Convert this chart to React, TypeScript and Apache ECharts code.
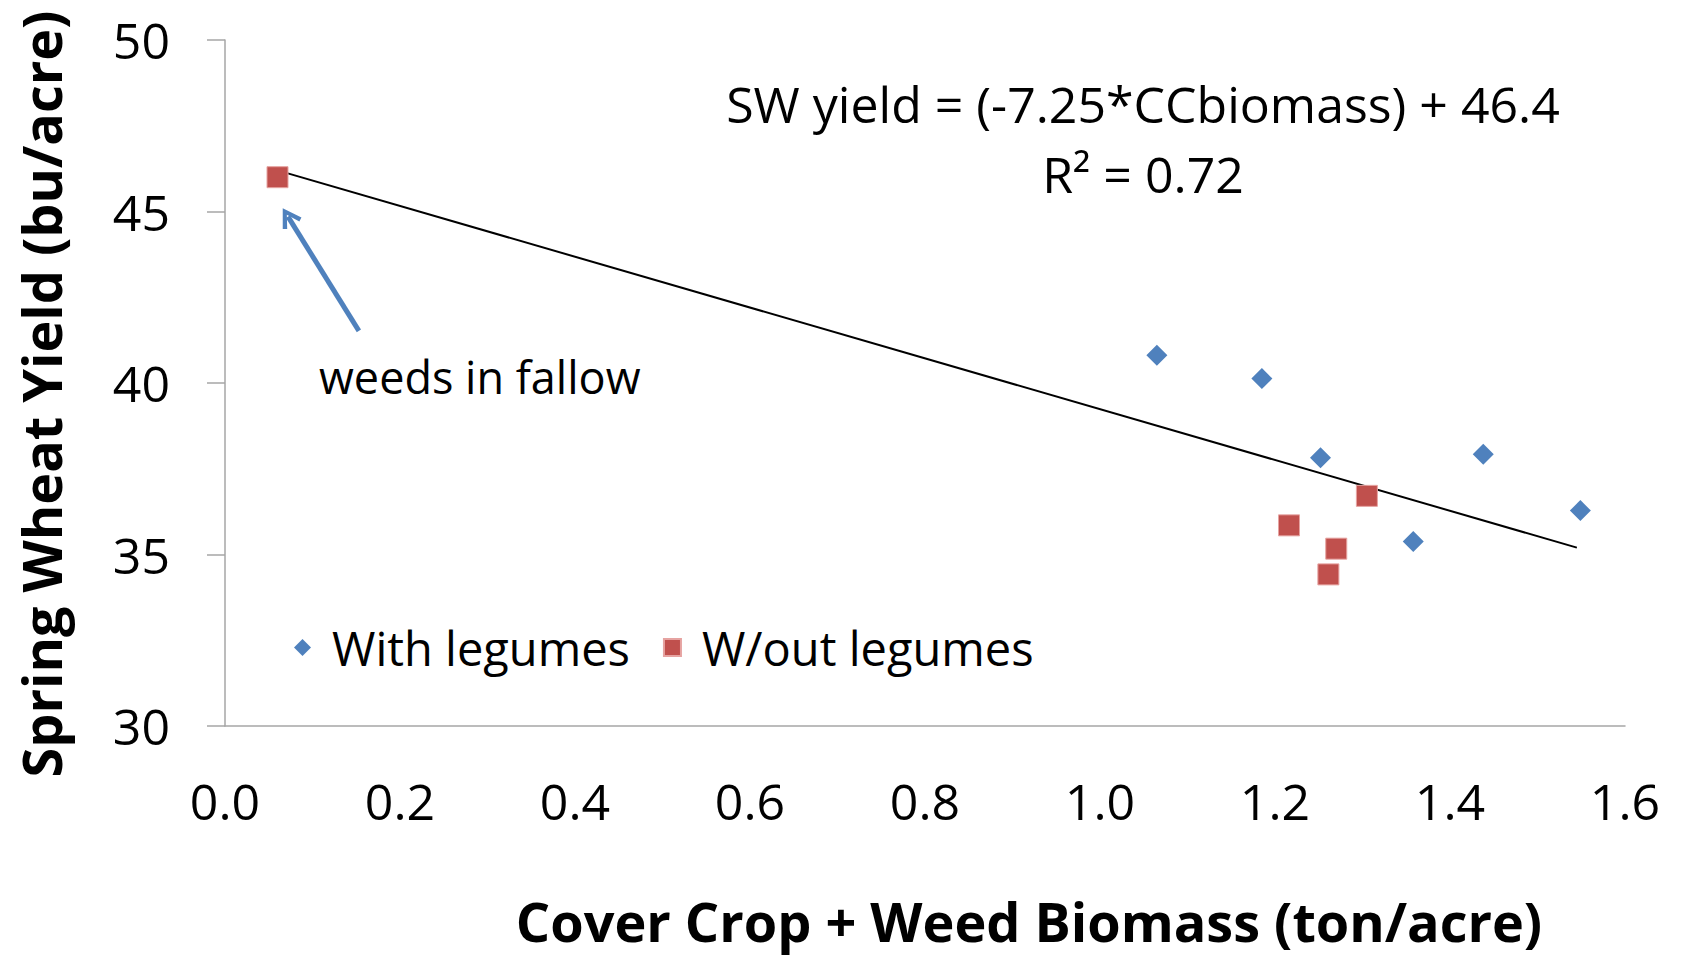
import React, { useEffect, useRef } from "react";
import * as echarts from "echarts";

// Data
const seriesNames = ["With legumes", "W/out legumes"];
const withLegumesX = [1.065, 1.185, 1.252, 1.438, 1.549, 1.358];
const withLegumesY = [40.81, 40.13, 37.82, 37.92, 36.28, 35.38];
const withoutLegumesX = [0.06, 1.305, 1.216, 1.27, 1.261];
const withoutLegumesY = [46.0, 36.71, 35.85, 35.17, 34.42];
const trendX = [0.06, 1.545];
const trendY = [46.2, 35.2];
const arrowFrom = [0.153, 41.52];
const arrowTo = [0.072, 44.85];
const equationText = "SW yield = (-7.25*CCbiomass) + 46.4";
const r2Text = "R² = 0.72";
const noteText = "weeds in fallow";
const xTitle = "Cover Crop + Weed Biomass (ton/acre)";
const yTitle = "Spring Wheat Yield (bu/acre)";
const xMin = 0, xMax = 1.6, xStep = 0.2;
const yMin = 30, yMax = 50, yStep = 5;

const FONT = "'Open Sans', sans-serif";
const BLUE = "#4F81BD";
const RED = "#C0504D";
const AXIS = "#A6A6A6";
const CHEVRON = "path://M10,0 L20,16 L16.5,18 L10,7 L3.5,18 L0,16 Z";

export default function App() {
  const ref = useRef<HTMLDivElement>(null);
  useEffect(() => {
    document.body.style.margin = "0";
    const chart = echarts.init(ref.current!, null, { renderer: "svg" });
    const zip = (xs: number[], ys: number[]) => xs.map((x, i) => [x, ys[i]]);
    chart.setOption({
      animation: false,
      backgroundColor: "#ffffff",
      textStyle: { fontFamily: FONT, color: "#000" },
      grid: { left: 225, right: 56, top: 40, bottom: 232, containLabel: false, outerBoundsMode: "none" },
      legend: {
        left: 294,
        top: 624,
        padding: 0,
        itemGap: 33,
        itemWidth: 17,
        itemHeight: 17,
        data: [
          { name: seriesNames[0], icon: "diamond" },
          { name: seriesNames[1], icon: "rect" },
        ],
        textStyle: { fontFamily: FONT, fontSize: 47, color: "#000", padding: [0, 0, 0, 16] },
      },
      xAxis: {
        type: "value",
        min: xMin,
        max: xMax,
        interval: xStep,
        axisLine: { show: true, lineStyle: { color: AXIS, width: 1.5 } },
        axisTick: { show: false },
        splitLine: { show: false },
        axisLabel: {
          fontFamily: FONT,
          fontSize: 50,
          color: "#000",
          margin: 50,
          formatter: (v: number) => v.toFixed(1),
        },
      },
      yAxis: {
        type: "value",
        min: yMin,
        max: yMax,
        interval: yStep,
        axisLine: { show: true, lineStyle: { color: AXIS, width: 1.5 } },
        axisTick: { show: true, inside: false, length: 18, lineStyle: { color: AXIS, width: 1.5 } },
        splitLine: { show: false },
        axisLabel: { fontFamily: FONT, fontSize: 50, color: "#000", margin: 55 },
      },
      series: [
        {
          name: "trend",
          type: "line",
          data: zip(trendX, trendY),
          showSymbol: false,
          symbol: "none",
          lineStyle: { color: "#000", width: 2 },
          silent: true,
          z: 1,
          markLine: {
            silent: true,
            symbol: ["none", CHEVRON],
            symbolSize: [22, 20],
            label: { show: false },
            lineStyle: { color: BLUE, width: 5, type: "solid" },
            data: [[{ coord: arrowFrom }, { coord: arrowTo }]],
          },
        },
        {
          name: seriesNames[0],
          type: "scatter",
          symbol: "diamond",
          symbolSize: 21,
          itemStyle: { color: BLUE, opacity: 1 },
          data: zip(withLegumesX, withLegumesY),
          z: 3,
        },
        {
          name: seriesNames[1],
          type: "scatter",
          symbol: "rect",
          symbolSize: 21,
          itemStyle: { color: RED, opacity: 1, borderColor: "#E6A3A1", borderWidth: 1 },
          data: zip(withoutLegumesX, withoutLegumesY),
          z: 3,
        },
      ],
      graphic: [
        {
          type: "text",
          x: 1143,
          y: 104,
          style: { text: equationText, font: `50px ${FONT}`, fill: "#000", align: "center", verticalAlign: "middle" },
        },
        {
          type: "text",
          x: 1143,
          y: 174,
          style: { text: r2Text, font: `50px ${FONT}`, fill: "#000", align: "center", verticalAlign: "middle" },
        },
        {
          type: "text",
          x: 319,
          y: 376,
          style: { text: noteText, font: `45px ${FONT}`, fill: "#000", align: "left", verticalAlign: "middle" },
        },
        {
          type: "text",
          x: 1029,
          y: 921,
          style: { text: xTitle, font: `bold 54px ${FONT}`, fill: "#000", align: "center", verticalAlign: "middle" },
        },
        {
          type: "text",
          x: 41,
          y: 394,
          rotation: Math.PI / 2,
          style: { text: yTitle, font: `bold 54px ${FONT}`, fill: "#000", align: "center", verticalAlign: "middle" },
        },
      ],
    });
    return () => chart.dispose();
  }, []);
  return <div ref={ref} style={{ width: 1681, height: 958 }} />;
}
